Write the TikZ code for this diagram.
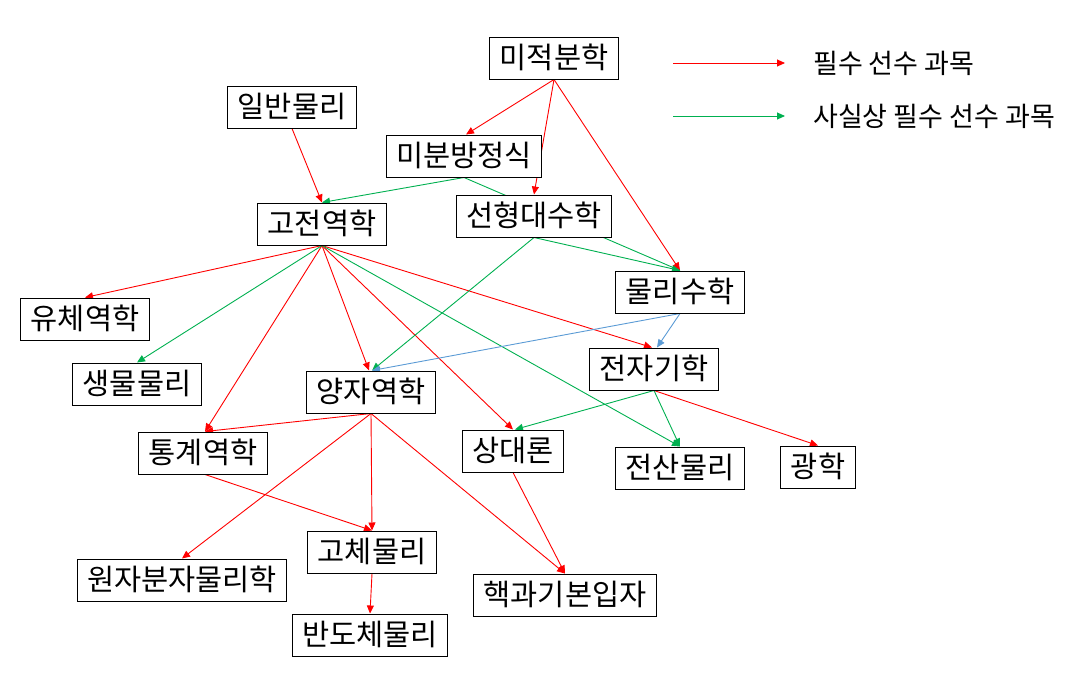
\documentclass[tikz,border=0pt]{standalone}
\usepackage{fontspec}
\setmainfont{Noto Sans CJK KR}
\usetikzlibrary{arrows.meta}
\pgfdeclarelayer{bg}
\pgfsetlayers{bg,main}
\definecolor{req}{RGB}{255,0,0}
\definecolor{defacto}{RGB}{0,176,80}
\definecolor{aux}{RGB}{91,155,213}
\begin{document}
\begin{tikzpicture}[x=1pt,y=-1pt,
  subj/.style={draw=black,line width=1pt,fill=white,font=\fontsize{29.5}{32}\selectfont,
    inner xsep=10pt,inner ysep=0pt,minimum height=42pt,text height=25pt,text depth=5pt},
  legtext/.style={anchor=west,inner sep=0pt,font=\fontsize{27}{30}\selectfont},
  tip/.style={-{Triangle[length=8pt,width=7pt]},line width=0.9pt},
  reqarrow/.style={tip,color=req},
  factarrow/.style={tip,color=defacto},
  auxarrow/.style={tip,color=aux},
  plainfact/.style={line width=0.9pt,color=defacto}]
\useasboundingbox (0,0) rectangle (1085,683);
% subjects
\node[subj] (mj) at (554,58) {미적분학};
\node[subj] (il) at (292,107) {일반물리};
\node[subj] (mb) at (464,156) {미분방정식};
\node[subj] (gj) at (322,224) {고전역학};
\node[subj] (sh) at (534,216) {선형대수학};
\node[subj] (ms) at (680,292) {물리수학};
\node[subj] (yc) at (85,319) {유체역학};
\node[subj] (sm) at (137,384) {생물물리};
\node[subj] (yj) at (371,392) {양자역학};
\node[subj] (jj) at (654,369) {전자기학};
\node[subj] (tg) at (203,453) {통계역학};
\node[subj] (sd) at (513,451) {상대론};
\node[subj] (js) at (680,468) {전산물리};
\node[subj] (gh) at (818,467) {광학};
\node[subj] (gc) at (372,552) {고체물리};
\node[subj] (wj) at (182,580) {원자분자물리학};
\node[subj] (hg) at (565,595) {핵과기본입자};
\node[subj] (bd) at (370,635) {반도체물리};
% legend
\coordinate (l1a) at (673,63);
\coordinate (l1b) at (785,63);
\coordinate (l2a) at (673,116);
\coordinate (l2b) at (785,116);
\node[legtext] (t1) at (813,63) {필수 선수 과목};
\node[legtext] (t2) at (813,116) {사실상 필수 선수 과목};
\draw[reqarrow] (l1a) -- (l1b);
\draw[factarrow] (l2a) -- (l2b);
\begin{pgfonlayer}{bg}
% required
\draw[reqarrow] (mj.south) -- ([xshift=2pt]mb.north);
\draw[reqarrow] (mj.south) -- (sh.north);
\draw[reqarrow] (mj.south) -- (ms.north);
\draw[reqarrow] (il.south) -- (gj.north);
\draw[reqarrow] (gj.south) -- (yc.north);
\draw[reqarrow] (gj.south) -- ([xshift=2pt]tg.north);
\draw[reqarrow] (gj.south) -- ([xshift=-2pt]yj.north);
\draw[reqarrow] (gj.south) -- (sd.north);
\draw[reqarrow] (gj.south) -- ([xshift=-2pt]jj.north);
\draw[reqarrow] (yj.south) -- ([xshift=2pt]tg.north);
\draw[reqarrow] (yj.south) -- (wj.north);
\draw[reqarrow] (yj.south) -- (gc.north);
\draw[reqarrow] (yj.south) -- (hg.north);
\draw[reqarrow] ([xshift=2pt]tg.south) -- (gc.north);
\draw[reqarrow] (sd.south) -- (hg.north);
\draw[reqarrow] (gc.south) -- (bd.north);
\draw[reqarrow] (jj.south) -- (gh.north);
% de facto
\draw[factarrow] (mb.south) -- (gj.north);
\draw[plainfact] (mb.south) -- (ms.north);
\draw[factarrow] (sh.south) -- (ms.north);
\draw[factarrow] (sh.south) -- ([xshift=1pt]yj.north);
\draw[factarrow] (gj.south) -- (sm.north);
\draw[factarrow] (gj.south) -- (js.north);
\draw[factarrow] (jj.south) -- ([xshift=2pt]sd.north);
\draw[factarrow] (jj.south) -- (js.north);
% auxiliary
\draw[auxarrow] (ms.south) -- ([xshift=1pt]yj.north);
\draw[auxarrow] (ms.south) -- ([xshift=3pt]jj.north);
\end{pgfonlayer}
\end{tikzpicture}
\end{document}
